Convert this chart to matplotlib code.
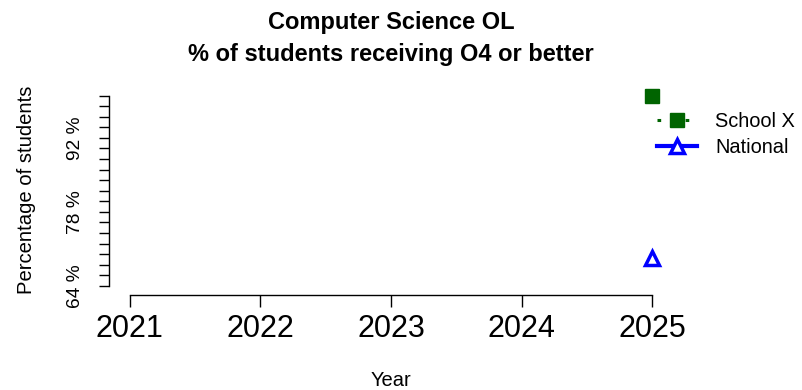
import matplotlib
matplotlib.use("Agg")
import matplotlib.pyplot as plt
import numpy as np
from matplotlib.lines import Line2D

plt.rcParams['font.family'] = ['Liberation Sans', 'DejaVu Sans']

years = [2021, 2022, 2023, 2024, 2025]
school_x = [np.nan, np.nan, np.nan, np.nan, 100.0]
national = [np.nan, np.nan, np.nan, np.nan, 69.3]
y_ticks = list(range(64, 101, 2))
y_labels = {64: '64 %', 78: '78 %', 92: '92 %'}

green = '#006400'
blue = '#0000FF'
dots = (0, (1.2, 8))

fig = plt.figure(figsize=(8.03, 3.90), dpi=100)
W, H = 803, 390
# plot region in pixels: left 109, right 673, top 88, bottom 293.5
ax = fig.add_axes([109 / W, 1 - 293.5 / H, (673 - 109) / W, (293.5 - 88) / H])
ax.set_xlim(2020.84, 2025.16)
ax.set_ylim(62.56, 101.44)

ax.plot(years, school_x, color=green, linestyle=dots, lw=2.2,
        marker='s', ms=9.5, clip_on=False)
ax.plot(years, national, color=blue, lw=3, marker='^', ms=10,
        mfc='white', mew=2.5, clip_on=False)

for s in ['top', 'right']:
    ax.spines[s].set_visible(False)
ax.spines['left'].set_bounds(64, 100)
ax.spines['bottom'].set_bounds(2021, 2025)
ax.spines['bottom'].set_position(('outward', 1.2))
ax.spines['left'].set_linewidth(1.0)
ax.spines['bottom'].set_linewidth(1.0)

ax.set_yticks(y_ticks)
ax.set_yticklabels([y_labels.get(t, '') for t in y_ticks], rotation=90,
                   va='center', fontsize=13.8)
ax.tick_params(axis='y', length=7.5, width=1.0, pad=10.5)
ax.set_xticks(years)
ax.set_xticklabels([str(y) for y in years], fontsize=22)
ax.tick_params(axis='x', length=8.5, width=1.0, pad=5)

ax.text(-0.147, 0.505, 'Percentage of students', transform=ax.transAxes,
        rotation=90, ha='center', va='center', fontsize=14.6)
fig.text(391 / W, 1 - 380 / H, 'Year', ha='center', va='center', fontsize=14.5)
fig.text(391 / W, 1 - 29.5 / H, 'Computer Science OL',
         ha='center', va='baseline', fontsize=17, fontweight='bold')
fig.text(391 / W, 1 - 60.5 / H, '% of students receiving O4 or better',
         ha='center', va='baseline', fontsize=17, fontweight='bold')

handles = [
    Line2D([], [], color=green, linestyle=dots, lw=2.2, marker='s', ms=9.5),
    Line2D([], [], color=blue, lw=3, marker='^', ms=10, mfc='white', mew=2.5),
]
fig.legend(handles, ['School X', 'National'], loc='upper left',
           bbox_to_anchor=(657 / W, 1 - 112 / H), frameon=False, fontsize=14.4,
           handlelength=2.0, handletextpad=0.9, borderpad=0, borderaxespad=0,
           labelspacing=0.35)

fig.savefig('out.png', dpi=100)
